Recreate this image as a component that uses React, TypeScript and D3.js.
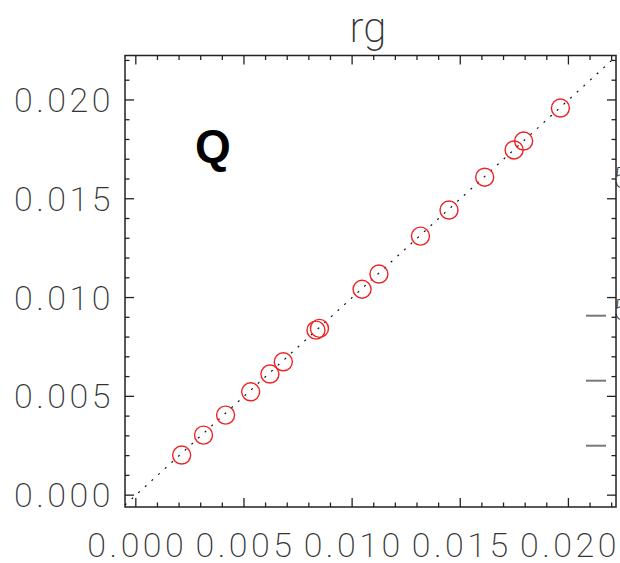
import React, { useRef, useEffect } from 'react';
import * as d3 from 'd3';

// measured values (x = reference, y = recomputed)
const xVals = [0.00212, 0.00313, 0.00415, 0.00531, 0.0062, 0.00682, 0.00833, 0.00849, 0.01046, 0.01124, 0.01316, 0.01448, 0.01613, 0.01749, 0.01793, 0.01963];
const yVals = [0.00203, 0.00304, 0.00405, 0.00523, 0.00613, 0.00675, 0.00835, 0.00844, 0.01042, 0.01119, 0.01311, 0.01443, 0.01609, 0.01747, 0.01792, 0.01959];
const majorTicks = [0, 0.005, 0.01, 0.015, 0.02];
const tickLabels = ['0.000', '0.005', '0.010', '0.015', '0.020'];
const xDomain = [-0.0005, 0.0222];
const yDomain = [-0.0006, 0.02225];
const title = 'rg';
const panelLabel = 'Q';

const App = () => {
  const d3Container = useRef(null);

  useEffect(() => {
    if (!d3Container.current) return;
    const svg = d3.select(d3Container.current);
    svg.selectAll('*').remove();

    const width = 620;
    const height = 563;
    const box = { left: 125, right: 616, top: 55.5, bottom: 507 };

    svg.attr('width', width).attr('height', height);

    const x = d3.scaleLinear().domain(xDomain).range([box.left, box.right]);
    const y = d3.scaleLinear().domain(yDomain).range([box.bottom, box.top]);

    const font = 'Roboto, "Open Sans", sans-serif';
    const axisColor = '#222';

    const minor = d3.range(0, 0.0225, 0.001);

    // clipped bits of the neighbouring panel
    const other = svg.append('g');
    [315.7, 380.7, 445.7].forEach(v => {
      other.append('line')
        .attr('x1', 586).attr('x2', 606)
        .attr('y1', v).attr('y2', v)
        .attr('stroke', '#777').attr('stroke-width', 2);
    });
    [188, 320].forEach(v => {
      other.append('text')
        .attr('x', 613).attr('y', v)
        .attr('font-family', font).attr('font-weight', 200)
        .attr('font-size', 30).attr('fill', '#444')
        .text('5');
    });

    // frame
    svg.append('rect')
      .attr('x', box.left).attr('y', box.top)
      .attr('width', box.right - box.left).attr('height', box.bottom - box.top)
      .attr('fill', 'none').attr('stroke', axisColor).attr('stroke-width', 1.5);

    const ticks = svg.append('g').attr('stroke', axisColor).attr('stroke-width', 1.3);
    minor.forEach((v, i) => {
      const len = i % 5 === 0 ? 9 : 4.5;
      const px = x(v);
      const py = y(v);
      ticks.append('line').attr('x1', px).attr('x2', px).attr('y1', box.bottom).attr('y2', box.bottom - len);
      ticks.append('line').attr('x1', px).attr('x2', px).attr('y1', box.top).attr('y2', box.top + len);
      ticks.append('line').attr('y1', py).attr('y2', py).attr('x1', box.left).attr('x2', box.left + len);
      ticks.append('line').attr('y1', py).attr('y2', py).attr('x1', box.right).attr('x2', box.right - len);
    });

    // tick labels
    majorTicks.forEach((v, i) => {
      svg.append('text')
        .attr('x', x(v) + 1.5).attr('y', 557)
        .attr('text-anchor', 'middle')
        .attr('font-family', font).attr('font-weight', 200)
        .attr('font-size', 34).attr('letter-spacing', 3.5)
        .attr('fill', '#333')
        .text(tickLabels[i]);
      svg.append('text')
        .attr('x', 114).attr('y', y(v) + 12)
        .attr('text-anchor', 'end')
        .attr('font-family', font).attr('font-weight', 200)
        .attr('font-size', 34).attr('letter-spacing', 3.5)
        .attr('fill', '#333')
        .text(tickLabels[i]);
    });

    // title
    svg.append('text')
      .attr('x', 368).attr('y', 42)
      .attr('text-anchor', 'middle')
      .attr('font-family', font).attr('font-weight', 200)
      .attr('font-size', 42).attr('fill', '#333')
      .text(title);

    // one-to-one line
    const lo = Math.max(xDomain[0], yDomain[0]);
    const hi = Math.min(xDomain[1], yDomain[1]);
    svg.append('line')
      .attr('x1', x(lo)).attr('y1', y(lo))
      .attr('x2', x(hi)).attr('y2', y(hi))
      .attr('stroke', '#111').attr('stroke-width', 1.2)
      .attr('stroke-dasharray', '2,7');

    // points
    svg.selectAll('.pt')
      .data(xVals.map((v, i) => [v, yVals[i]]))
      .enter().append('circle')
      .attr('class', 'pt')
      .attr('cx', d => x(d[0]))
      .attr('cy', d => y(d[1]))
      .attr('r', 9)
      .attr('fill', 'none')
      .attr('stroke', '#ee2222')
      .attr('stroke-width', 1.4);

    svg.append('text')
      .attr('x', 195).attr('y', 162)
      .attr('font-family', '"Liberation Sans", Arial, sans-serif')
      .attr('font-weight', 'bold')
      .attr('font-size', 46).attr('fill', '#000')
      .text(panelLabel);
  }, []);

  return (
    <svg ref={d3Container} style={{ position: 'absolute', left: 0, top: 0 }} />
  );
};

export default App;
